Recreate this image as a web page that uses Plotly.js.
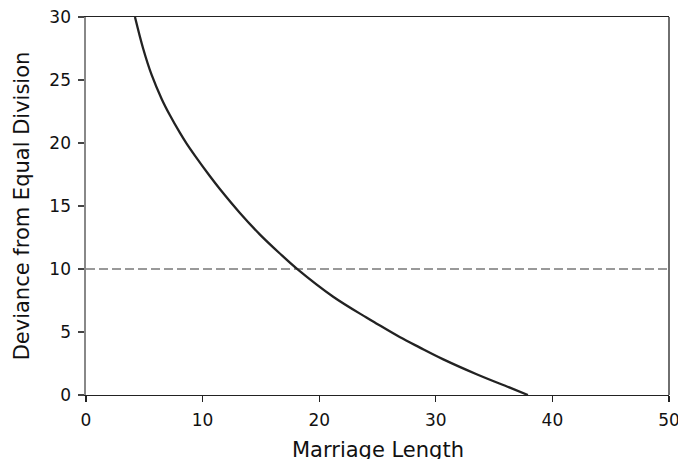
<!DOCTYPE html>
<html>
<head>
<meta charset="utf-8">
<script src="https://cdn.plot.ly/plotly-3.0.1.min.js"></script>
<style>html,body{margin:0;padding:0;background:#fff;}#chart{width:678px;height:459px;}</style>
</head>
<body>
<div id="chart"></div>
<script>
// Data
const marriageLength = [4.2, 4.9, 5.63, 6.49, 7.2, 8.06, 8.63, 9.34, 10.6, 11.48, 13.2, 14.9, 16.6, 18.05, 21.2, 24.05, 24.9, 26.9, 28.6, 30.6, 33.5, 36.3, 37.9];
const deviance       = [30.0, 27.5, 25.4, 23.5, 22.2, 20.8, 19.95, 19.0, 17.4, 16.35, 14.45, 12.75, 11.25, 10.05, 7.8, 6.15, 5.68, 4.6, 3.78, 2.85, 1.65, 0.6, 0.0];
const thresholdValue = [10];
const xTicks = [0, 10, 20, 30, 40, 50];
const yTicks = [0, 5, 10, 15, 20, 25, 30];
const xTitle = 'Marriage Length';
const yTitle = 'Deviance from Equal Division';

const FONT = 'DejaVu Sans, sans-serif';

const traces = [{
  x: marriageLength,
  y: deviance,
  type: 'scatter',
  mode: 'lines',
  line: {color: '#222222', width: 2.3, shape: 'spline', smoothing: 1},
  hoverinfo: 'skip',
  showlegend: false
}];

const layout = {
  width: 678, height: 459,
  margin: {l: 86, r: 9, t: 17, b: 64},
  paper_bgcolor: '#ffffff',
  plot_bgcolor: '#ffffff',
  font: {family: FONT, color: '#111111', size: 17},
  showlegend: false,
  xaxis: {
    range: [0, 50],
    tickvals: xTicks,
    ticktext: xTicks.map(String),
    showgrid: false, zeroline: false,
    showline: true, linecolor: '#222222', linewidth: 1.3, mirror: true,
    ticks: 'outside', ticklen: 6, tickwidth: 1.2, tickcolor: '#222222',
    ticklabelstandoff: 3,
    ticklabeloverflow: 'allow',
    tickfont: {family: FONT, size: 17, color: '#111111'}
  },
  yaxis: {
    range: [0, 30],
    tickvals: yTicks,
    ticktext: yTicks.map(String),
    showgrid: false, zeroline: false,
    showline: true, linecolor: '#888888', linewidth: 1.6, mirror: false,
    ticks: 'outside', ticklen: 6, tickwidth: 1.2, tickcolor: '#444444',
    ticklabelstandoff: 4,
    ticklabeloverflow: 'allow',
    tickfont: {family: FONT, size: 17, color: '#111111'},
    title: {text: yTitle, font: {family: FONT, size: 21, color: '#111111'}, standoff: 14}
  },
  annotations: [{
    text: xTitle, xref: 'paper', yref: 'paper', x: 0.5, y: 0,
    xanchor: 'center', yanchor: 'top', yshift: -42, showarrow: false, borderpad: 0,
    font: {family: FONT, size: 21, color: '#111111'}
  }],
  shapes: [
    {type: 'line', xref: 'paper', yref: 'y', x0: 0, x1: 1, y0: thresholdValue[0], y1: thresholdValue[0],
     line: {color: '#999999', width: 2.2, dash: '9px,4px'}, layer: 'below'},
    {type: 'line', xref: 'paper', yref: 'paper', x0: 1, x1: 1, y0: 0, y1: 1,
     line: {color: '#222222', width: 1.3}}
  ]
};

Plotly.newPlot('chart', traces, layout, {displayModeBar: false, staticPlot: true});
</script>
</body>
</html>
